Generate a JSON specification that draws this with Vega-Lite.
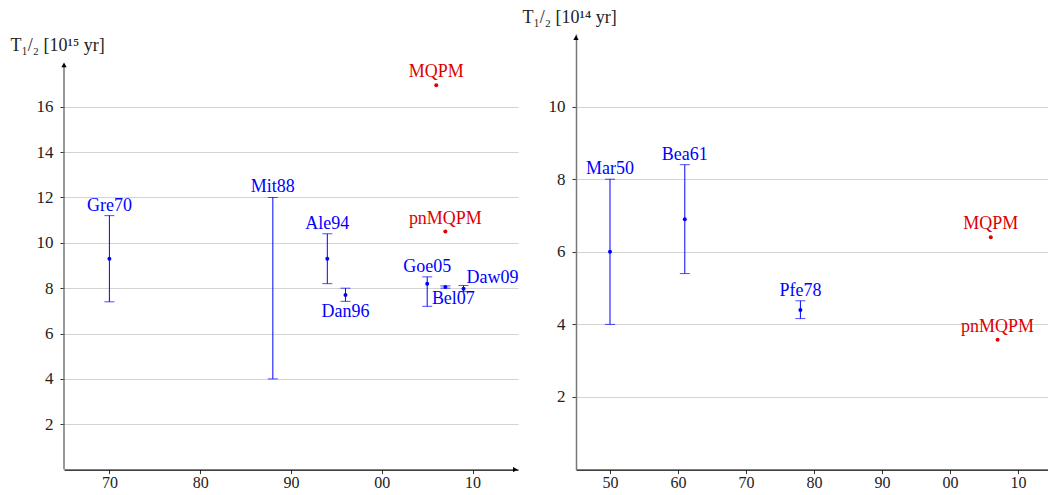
{
  "$schema": "https://vega.github.io/schema/vega-lite/v6.json",
  "padding": {"left": 10, "top": 9, "right": 0, "bottom": 0},
  "background": "white",
  "datasets": {
    "left": [
      {"label": "Gre70", "year": 1970, "t": 9.3, "lo": 7.4, "hi": 11.2, "type": "experiment"},
      {"label": "Mit88", "year": 1988, "t": null, "lo": 4.0, "hi": 12.0, "type": "experiment"},
      {"label": "Ale94", "year": 1994, "t": 9.3, "lo": 8.2, "hi": 10.4, "type": "experiment"},
      {"label": "Dan96", "year": 1996, "t": 7.7, "lo": 7.42, "hi": 8.0, "type": "experiment"},
      {"label": "Goe05", "year": 2005, "t": 8.2, "lo": 7.2, "hi": 8.5, "type": "experiment"},
      {"label": "Bel07", "year": 2007, "t": 8.05, "lo": 8.0, "hi": 8.1, "type": "experiment"},
      {"label": "Daw09", "year": 2009, "t": 7.98, "lo": 7.85, "hi": 8.12, "type": "experiment"},
      {"label": "MQPM", "year": 2006, "t": 16.95, "lo": null, "hi": null, "type": "theory"},
      {"label": "pnMQPM", "year": 2007, "t": 10.5, "lo": null, "hi": null, "type": "theory"}
    ],
    "right": [
      {"label": "Mar50", "year": 1950, "t": 6.0, "lo": 4.0, "hi": 8.0, "type": "experiment"},
      {"label": "Bea61", "year": 1961, "t": 6.9, "lo": 5.4, "hi": 8.4, "type": "experiment"},
      {"label": "Pfe78", "year": 1978, "t": 4.4, "lo": 4.16, "hi": 4.65, "type": "experiment"},
      {"label": "MQPM", "year": 2006, "t": 6.4, "lo": null, "hi": null, "type": "theory"},
      {"label": "pnMQPM", "year": 2007, "t": 3.58, "lo": null, "hi": null, "type": "theory"}
    ]
  },
  "hconcat": [
    {
      "width": 454,
      "height": 435.6,
      "data": {"name": "left"},
      "layer": [
        {
          "transform": [{"filter": "isValid(datum.lo)"}],
          "mark": {"type": "rule", "strokeWidth": 1},
          "encoding": {
            "x": {"field": "year", "type": "quantitative", "title": null, "scale": {"domain": [1965, 2015], "nice": false, "zero": false},
                  "axis": {"values": [1970, 1980, 1990, 2000, 2010], "labelExpr": "substring(format(datum.value, 'd'), 2)"}},
            "y": {"field": "lo", "type": "quantitative", "title": "T₁/₂ [10¹⁵ yr]", "scale": {"domain": [0, 19.21], "nice": false},
                  "axis": {"values": [2, 4, 6, 8, 10, 12, 14, 16], "grid": true, "domain": false, "titleX": -54, "titleY": 12}},
            "y2": {"field": "hi"},
            "color": {"field": "type", "type": "nominal", "scale": {"domain": ["experiment", "theory"], "range": ["#0000ff", "#dd0000"]}, "legend": null}
          }
        },
        {
          "transform": [{"filter": "isValid(datum.lo)"}],
          "mark": {"type": "tick", "orient": "horizontal", "size": 10, "thickness": 1},
          "encoding": {
            "x": {"field": "year", "type": "quantitative"},
            "y": {"field": "lo", "type": "quantitative"},
            "color": {"field": "type", "type": "nominal", "legend": null}
          }
        },
        {
          "transform": [{"filter": "isValid(datum.hi)"}],
          "mark": {"type": "tick", "orient": "horizontal", "size": 10, "thickness": 1},
          "encoding": {
            "x": {"field": "year", "type": "quantitative"},
            "y": {"field": "hi", "type": "quantitative"},
            "color": {"field": "type", "type": "nominal", "legend": null}
          }
        },
        {
          "transform": [{"filter": "isValid(datum.t)"}],
          "mark": {"type": "circle", "size": 16, "opacity": 1},
          "encoding": {
            "x": {"field": "year", "type": "quantitative"},
            "y": {"field": "t", "type": "quantitative"},
            "color": {"field": "type", "type": "nominal", "legend": null}
          }
        },
        {
          "transform": [{"filter": "datum.type == 'experiment' && indexof(['Dan96','Bel07','Daw09'], datum.label) < 0"}],
          "mark": {"type": "text", "baseline": "alphabetic", "dy": -5},
          "encoding": {
            "x": {"field": "year", "type": "quantitative"},
            "y": {"field": "hi", "type": "quantitative"},
            "text": {"field": "label"},
            "color": {"field": "type", "type": "nominal", "legend": null}
          }
        },
        {
          "transform": [{"filter": "datum.label == 'Dan96'"}],
          "mark": {"type": "text", "baseline": "top", "dy": 2},
          "encoding": {
            "x": {"field": "year", "type": "quantitative"},
            "y": {"field": "lo", "type": "quantitative"},
            "text": {"field": "label"},
            "color": {"field": "type", "type": "nominal", "legend": null}
          }
        },
        {
          "transform": [{"filter": "datum.label == 'Bel07'"}],
          "mark": {"type": "text", "baseline": "top", "dy": 3, "dx": 8},
          "encoding": {
            "x": {"field": "year", "type": "quantitative"},
            "y": {"field": "t", "type": "quantitative"},
            "text": {"field": "label"},
            "color": {"field": "type", "type": "nominal", "legend": null}
          }
        },
        {
          "transform": [{"filter": "datum.label == 'Daw09'"}],
          "mark": {"type": "text", "baseline": "alphabetic", "align": "left", "dx": 3, "dy": -2},
          "encoding": {
            "x": {"field": "year", "type": "quantitative"},
            "y": {"field": "hi", "type": "quantitative"},
            "text": {"field": "label"},
            "color": {"field": "type", "type": "nominal", "legend": null}
          }
        },
        {
          "transform": [{"filter": "datum.type == 'theory'"}],
          "mark": {"type": "text", "baseline": "alphabetic", "dy": -8},
          "encoding": {
            "x": {"field": "year", "type": "quantitative"},
            "y": {"field": "t", "type": "quantitative"},
            "text": {"field": "label"},
            "color": {"field": "type", "type": "nominal", "legend": null}
          }
        },
        {
          "data": {"values": [{}]},
          "mark": {"type": "rule", "color": "#777777", "strokeWidth": 1.5},
          "encoding": {
            "x": {"datum": 1965, "type": "quantitative"},
            "y": {"datum": 0, "type": "quantitative"},
            "y2": {"datum": 17.8}
          }
        },
        {
          "data": {"values": [{}]},
          "mark": {"type": "point", "shape": "triangle-up", "filled": true, "color": "#000000", "size": 28, "opacity": 1},
          "encoding": {
            "x": {"datum": 1965, "type": "quantitative"},
            "y": {"datum": 17.85, "type": "quantitative"}
          }
        },
        {
          "data": {"values": [{}]},
          "mark": {"type": "point", "shape": "triangle-right", "filled": true, "color": "#000000", "size": 28, "opacity": 1},
          "encoding": {
            "x": {"datum": 2014.7, "type": "quantitative"},
            "y": {"datum": 0, "type": "quantitative"}
          }
        }
      ]
    },
    {
      "width": 476,
      "height": 435.6,
      "data": {"name": "right"},
      "layer": [
        {
          "transform": [{"filter": "isValid(datum.lo)"}],
          "mark": {"type": "rule", "strokeWidth": 1},
          "encoding": {
            "x": {"field": "year", "type": "quantitative", "title": null, "scale": {"domain": [1945, 2015], "nice": false, "zero": false},
                  "axis": {"values": [1950, 1960, 1970, 1980, 1990, 2000, 2010], "labelExpr": "substring(format(datum.value, 'd'), 2)"}},
            "y": {"field": "lo", "type": "quantitative", "title": "T₁/₂ [10¹⁴ yr]", "scale": {"domain": [0, 12], "nice": false},
                  "axis": {"values": [2, 4, 6, 8, 10], "grid": true, "domain": true, "titleX": -54, "titleY": -16}},
            "y2": {"field": "hi"},
            "color": {"field": "type", "type": "nominal", "scale": {"domain": ["experiment", "theory"], "range": ["#0000ff", "#dd0000"]}, "legend": null}
          }
        },
        {
          "transform": [{"filter": "isValid(datum.lo)"}],
          "mark": {"type": "tick", "orient": "horizontal", "size": 10, "thickness": 1},
          "encoding": {
            "x": {"field": "year", "type": "quantitative"},
            "y": {"field": "lo", "type": "quantitative"},
            "color": {"field": "type", "type": "nominal", "legend": null}
          }
        },
        {
          "transform": [{"filter": "isValid(datum.hi)"}],
          "mark": {"type": "tick", "orient": "horizontal", "size": 10, "thickness": 1},
          "encoding": {
            "x": {"field": "year", "type": "quantitative"},
            "y": {"field": "hi", "type": "quantitative"},
            "color": {"field": "type", "type": "nominal", "legend": null}
          }
        },
        {
          "transform": [{"filter": "isValid(datum.t)"}],
          "mark": {"type": "circle", "size": 16, "opacity": 1},
          "encoding": {
            "x": {"field": "year", "type": "quantitative"},
            "y": {"field": "t", "type": "quantitative"},
            "color": {"field": "type", "type": "nominal", "legend": null}
          }
        },
        {
          "transform": [{"filter": "datum.type == 'experiment'"}],
          "mark": {"type": "text", "baseline": "alphabetic", "dy": -5},
          "encoding": {
            "x": {"field": "year", "type": "quantitative"},
            "y": {"field": "hi", "type": "quantitative"},
            "text": {"field": "label"},
            "color": {"field": "type", "type": "nominal", "legend": null}
          }
        },
        {
          "transform": [{"filter": "datum.type == 'theory'"}],
          "mark": {"type": "text", "baseline": "alphabetic", "dy": -8},
          "encoding": {
            "x": {"field": "year", "type": "quantitative"},
            "y": {"field": "t", "type": "quantitative"},
            "text": {"field": "label"},
            "color": {"field": "type", "type": "nominal", "legend": null}
          }
        },
        {
          "data": {"values": [{}]},
          "mark": {"type": "point", "shape": "triangle-up", "filled": true, "color": "#000000", "size": 28, "opacity": 1},
          "encoding": {
            "x": {"datum": 1945, "type": "quantitative"},
            "y": {"datum": 11.9, "type": "quantitative"}
          }
        }
      ]
    }
  ],
  "spacing": 58,
  "bounds": "flush",
  "config": {
    "font": "Liberation Serif",
    "view": {"stroke": null},
    "axis": {
      "labelFont": "Liberation Serif", "labelFontSize": 17, "labelColor": "#222222",
      "titleFont": "Liberation Serif", "titleFontSize": 18, "titleFontWeight": "normal", "titleColor": "#222222",
      "tickColor": "#333333", "tickSize": 4, "gridColor": "#d3d3d3", "gridWidth": 1
    },
    "axisX": {"domainColor": "#000000", "domainWidth": 1.3, "labelPadding": 1, "labelFontSize": 16, "grid": false},
    "axisY": {"domainColor": "#777777", "domainWidth": 1.5, "labelPadding": 7, "titleAngle": 0, "titleAlign": "left", "titleBaseline": "middle"},
    "text": {"font": "Liberation Serif", "fontSize": 18}
  }
}
